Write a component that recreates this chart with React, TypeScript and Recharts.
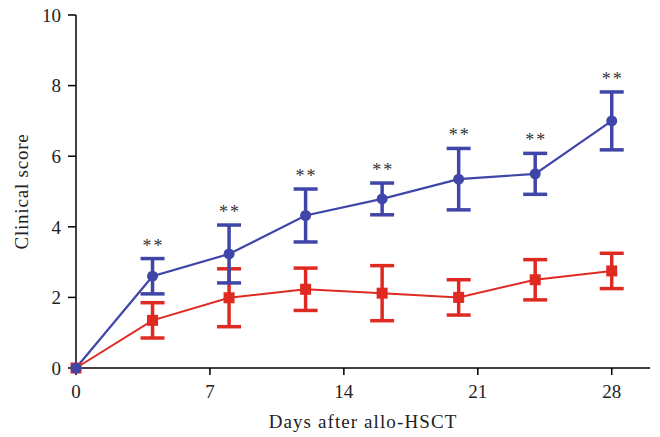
import React from "react"
import { ComposedChart, Line, XAxis, YAxis, ErrorBar, LabelList, Label } from "recharts"

const days = [0, 4, 8, 12, 16, 20, 24, 28]
const blueMean = [0, 2.6, 3.23, 4.32, 4.79, 5.35, 5.5, 7.0]
const blueErr = [null, 0.5, 0.82, 0.75, 0.45, 0.87, 0.58, 0.82]
const redMean = [0, 1.35, 1.99, 2.23, 2.12, 2.0, 2.5, 2.75]
const redErr = [null, 0.5, 0.82, 0.6, 0.78, 0.5, 0.57, 0.5]
const stars = ["", "**", "**", "**", "**", "**", "**", "**"]

const xTicks = [0, 7, 14, 21, 28]
const yTicks = [0, 2, 4, 6, 8, 10]

const BLUE = "#3F46A8"
const RED = "#DF2A22"
const FONT = "'Liberation Serif', 'DejaVu Serif', serif"

const data = days.map((d, i) => ({
  day: d,
  blue: blueMean[i],
  blueErr: blueErr[i],
  red: redMean[i],
  redErr: redErr[i],
  starY: stars[i] ? blueMean[i] + (blueErr[i] ?? 0) : null,
  star: stars[i],
}))

const SquareDot = (props: any) => {
  const { cx, cy, index } = props
  if (cx == null || cy == null) return null
  return <rect key={`sq-${index}`} x={cx - 5.5} y={cy - 5.5} width={11} height={11} fill={RED} />
}

const CircleDot = (props: any) => {
  const { cx, cy, index } = props
  if (cx == null || cy == null) return null
  return <circle key={`c-${index}`} cx={cx} cy={cy} r={5.5} fill={BLUE} />
}

// asterisks sit a little above the top cap of the blue error bar
const StarLabel = (props: any) => {
  const { x, y, value } = props
  if (!value || x == null || y == null) return null
  return (
    <text x={x + 1} y={y - 7} textAnchor="middle" fontFamily={FONT} fontSize={18} letterSpacing={2} fill="#333">
      {value}
    </text>
  )
}

export default function App() {
  return (
    <div style={{ position: "absolute", left: 0, top: 0, background: "#fff" }}>
      <ComposedChart width={660} height={437} data={data} margin={{ top: 15, right: 10, bottom: 0, left: 0 }}>
        <XAxis
          dataKey="day"
          type="number"
          domain={[0, 30]}
          ticks={xTicks}
          height={69}
          stroke="#000"
          strokeWidth={1.5}
          tickSize={7}
          tick={{ fill: "#222", fontSize: 19, fontFamily: FONT }}
          tickMargin={10}
        >
          <Label value="Days after allo-HSCT" position="insideBottom" offset={9} fill="#222" fontSize={19} fontFamily={FONT} letterSpacing={1.1} />
        </XAxis>
        <YAxis
          type="number"
          domain={[0, 10]}
          ticks={yTicks}
          width={76}
          stroke="#000"
          strokeWidth={1.5}
          tickSize={8}
          tick={{ fill: "#222", fontSize: 19, fontFamily: FONT }}
          tickMargin={7}
        >
          <Label value="Clinical score" angle={-90} position="insideLeft" offset={21} fill="#222" fontSize={19} fontFamily={FONT} letterSpacing={0.8} style={{ textAnchor: "middle" }} />
        </YAxis>
        <Line dataKey="red" stroke={RED} strokeWidth={2} dot={SquareDot} activeDot={false} isAnimationActive={false}>
          <ErrorBar dataKey="redErr" direction="y" width={12} strokeWidth={3.5} stroke={RED} />
        </Line>
        <Line dataKey="blue" stroke={BLUE} strokeWidth={2.2} dot={CircleDot} activeDot={false} isAnimationActive={false}>
          <ErrorBar dataKey="blueErr" direction="y" width={12} strokeWidth={3.5} stroke={BLUE} />
        </Line>
        <Line dataKey="starY" stroke="none" dot={false} activeDot={false} isAnimationActive={false} connectNulls={false}>
          <LabelList dataKey="star" content={StarLabel} />
        </Line>
      </ComposedChart>
    </div>
  )
}
